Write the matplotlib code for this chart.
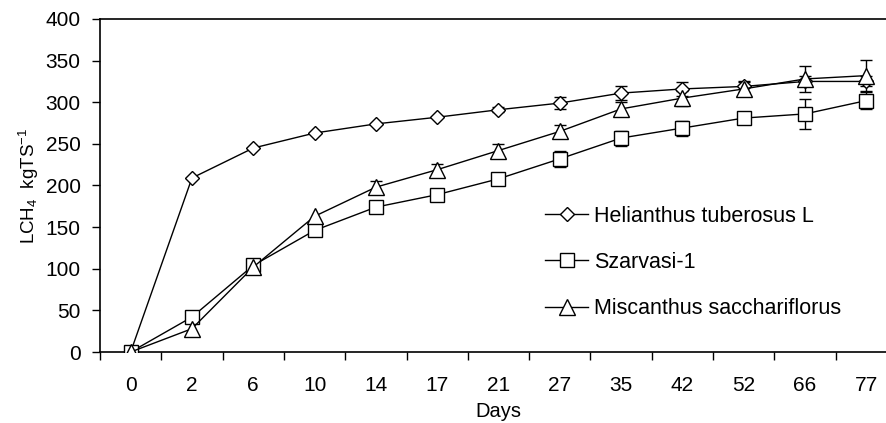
import numpy as np
import matplotlib
matplotlib.use('Agg')
import matplotlib.pyplot as plt

plt.rcParams['font.family'] = ['Liberation Sans', 'DejaVu Sans']
plt.rcParams['mathtext.fontset'] = 'custom'
plt.rcParams['mathtext.rm'] = 'Liberation Sans'
plt.rcParams['mathtext.default'] = 'regular'

days = ['0', '2', '6', '10', '14', '17', '21', '27', '35', '42', '52', '66', '77']

helianthus = [0, 209, 245, 263, 274, 282, 291, 299, 311, 316, 319, 325, 325]
helianthus_err = [0, 0, 0, 0, 0, 0, 3, 7, 8, 8, 7, 6, 6]

szarvasi = [0, 42, 104, 146, 174, 189, 208, 232, 257, 269, 281, 286, 302]
szarvasi_err = [0, 0, 0, 0, 0, 0, 0, 10, 9, 9, 6, 18, 10]

miscanthus = [0, 28, 102, 163, 198, 219, 242, 265, 292, 305, 316, 328, 332]
miscanthus_err = [0, 0, 0, 0, 7, 7, 8, 8, 8, 9, 8, 16, 19]

names = ['Helianthus tuberosus L', 'Szarvasi-1', 'Miscanthus sacchariflorus']
markers = ['D', 's', '^']
sizes = [7.5, 10, 11]

fig = plt.figure(figsize=(8.87, 4.23), dpi=100)
ax = fig.add_axes([100 / 887, 71 / 423, 797 / 887, 333 / 423])

x = np.arange(len(days))
series = [helianthus, szarvasi, miscanthus]
errs = [helianthus_err, szarvasi_err, miscanthus_err]

for vals, err, name, m, ms in zip(series, errs, names, markers, sizes):
    vals = np.array(vals, dtype=float)
    err = np.array(err, dtype=float)
    ok = err > 0
    ax.errorbar(x[ok], vals[ok], yerr=err[ok], fmt='none', ecolor='black',
                elinewidth=1, capsize=4.5, capthick=1, zorder=2)
    ax.plot(x, vals, marker=m, markersize=ms, color='black', linewidth=1,
            markerfacecolor='white', markeredgecolor='black',
            markeredgewidth=1, label=name, zorder=3)

ax.set_xlim(-0.5, len(days) - 0.5)
ax.set_ylim(0, 400)
ax.set_yticks(np.arange(0, 401, 50))
ax.set_xticks(x)
ax.set_xticklabels(days)
ax.set_xticks(np.arange(-0.5, len(days), 1), minor=True)
ax.tick_params(axis='x', which='major', length=0, pad=17, labelsize=15)
ax.tick_params(axis='x', which='minor', length=5.5, width=1, direction='out')
ax.tick_params(axis='y', length=5.5, width=1, direction='out', labelsize=15, pad=8.5)

ax.spines['right'].set_visible(False)
for s in ['left', 'top', 'bottom']:
    ax.spines[s].set_linewidth(1.2)

ax.set_xlabel('Days', fontsize=14.5, labelpad=5)
ax.set_ylabel(r'LCH$_4$  kgTS$^{-1}$', fontsize=13.5, labelpad=3)

ax.legend(loc='upper left', bbox_to_anchor=(0.548, 0.465), frameon=False,
          fontsize=15.5, handlelength=2.0, labelspacing=1.17, handletextpad=0.25,
          borderaxespad=0)

fig.savefig('out.png', dpi=100)
